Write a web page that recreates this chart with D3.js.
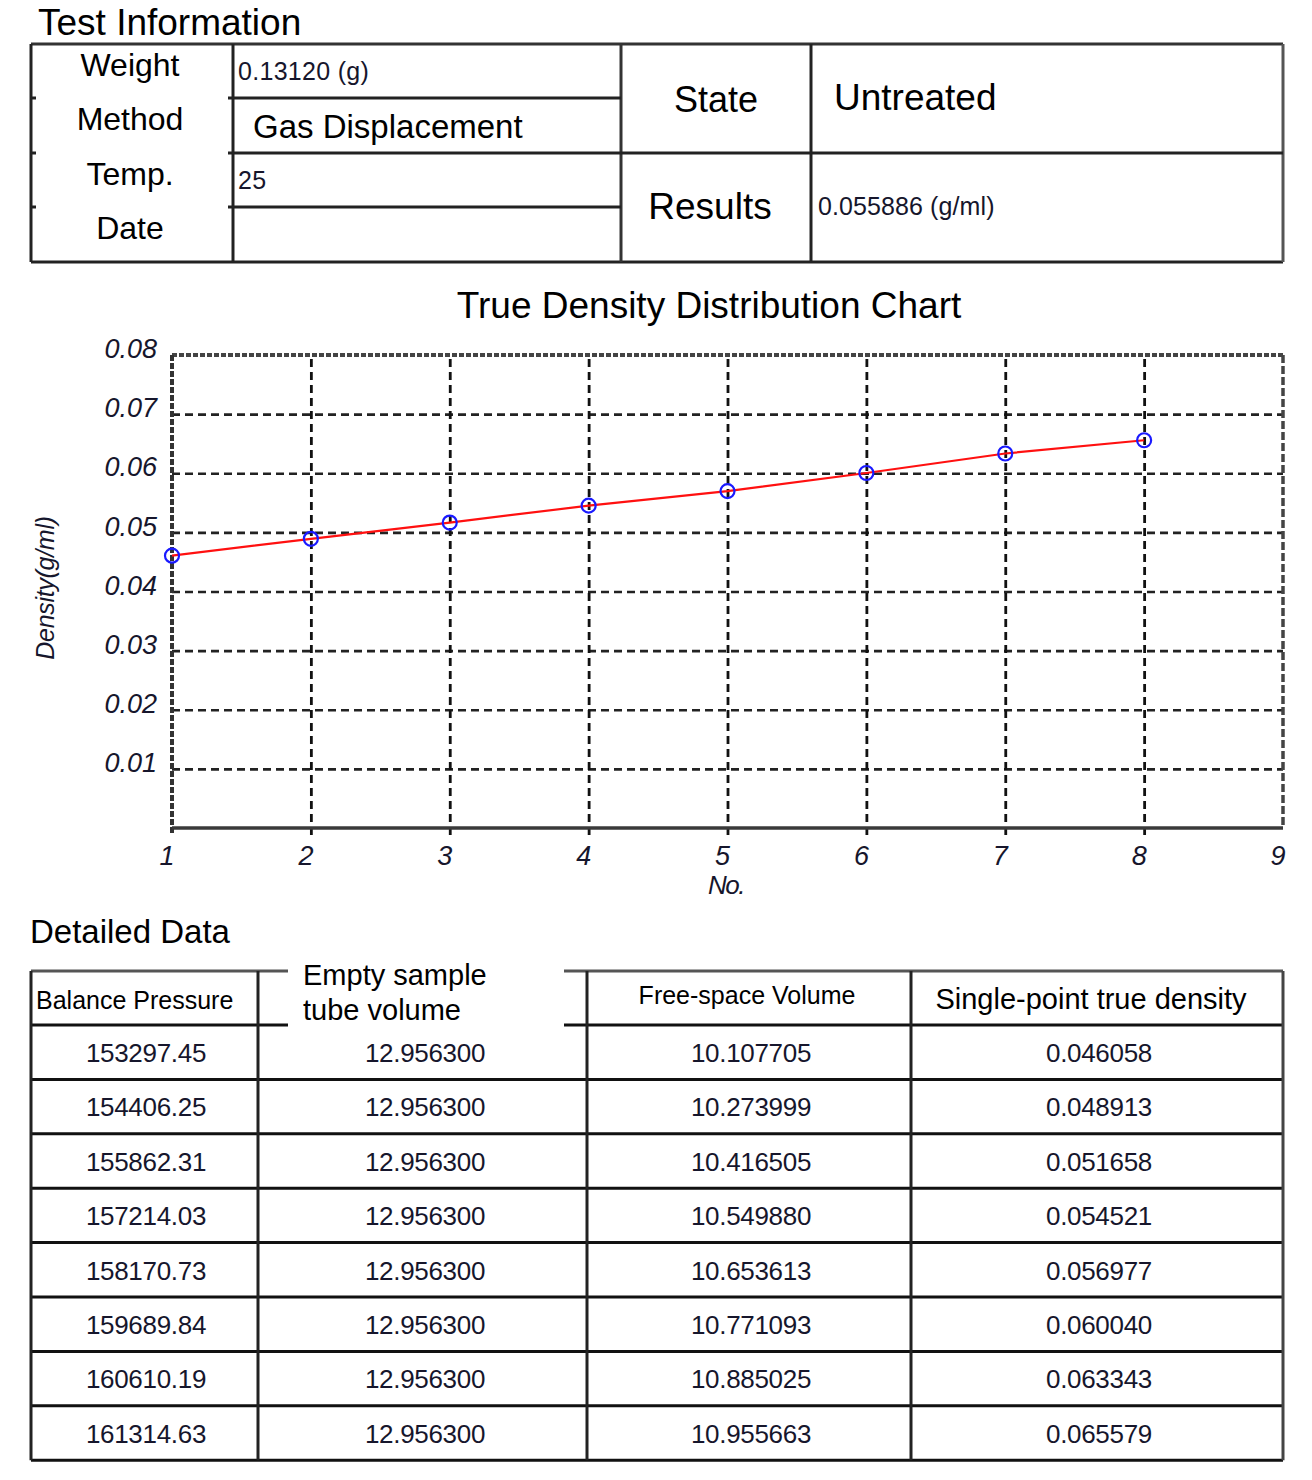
<!DOCTYPE html>
<html><head><meta charset="utf-8">
<script src="https://cdn.jsdelivr.net/npm/d3@7"></script>
<style>
html,body{margin:0;padding:0;background:#fff;}
svg{display:block;}
text{font-family:"Liberation Sans",Arial,sans-serif;}
</style></head>
<body>
<svg id="c" width="1312" height="1480"></svg>
<script>
// ---------- data ----------
const infoLabels = ["Weight", "Method", "Temp.", "Date"];
const infoValues = ["0.13120 (g)", "Gas Displacement", "25", ""];
const stateLabel = "State", stateValue = "Untreated";
const resultLabel = "Results", resultValue = "0.055886 (g/ml)";

const pointNo = [1, 2, 3, 4, 5, 6, 7, 8];
const balancePressure = ["153297.45","154406.25","155862.31","157214.03","158170.73","159689.84","160610.19","161314.63"];
const emptyTubeVolume = ["12.956300","12.956300","12.956300","12.956300","12.956300","12.956300","12.956300","12.956300"];
const freeSpaceVolume = ["10.107705","10.273999","10.416505","10.549880","10.653613","10.771093","10.885025","10.955663"];
const singlePointDensity = [0.046058, 0.048913, 0.051658, 0.054521, 0.056977, 0.060040, 0.063343, 0.065579];

const yTicks = [0.01, 0.02, 0.03, 0.04, 0.05, 0.06, 0.07, 0.08];
const xTicks = [1, 2, 3, 4, 5, 6, 7, 8, 9];
const headers = ["Balance Pressure", "Empty sample|tube volume", "Free-space Volume", "Single-point true density"];

// ---------- drawing ----------
const svg = d3.select("#c");
const ink = "#1a1a1a";
const numInk = "#16162c";

function line(g, x1, y1, x2, y2, w, col, dash) {
  const l = g.append("line").attr("x1", x1).attr("y1", y1).attr("x2", x2).attr("y2", y2)
    .attr("stroke", col || ink).attr("stroke-width", w || 3);
  if (dash) l.attr("stroke-dasharray", dash);
  return l;
}

// ===== Test Information table =====
svg.append("text").attr("x", 38).attr("y", 35).attr("font-size", 37).attr("fill", "#000").text("Test Information");
const t1 = svg.append("g");
const T = {l: 31, r: 1283, t: 44, b: 262, c1: 233, c2: 621, c3: 811};
const rowY = [44, 98, 153, 207, 262];
line(t1, T.l, T.t, T.r, T.t, 3, "#333");
line(t1, T.l, T.b, T.r, T.b, 3, "#222");
line(t1, T.l, T.t, T.l, T.b, 3, "#222");
line(t1, T.r, T.t, T.r, T.b, 3, "#555");
line(t1, T.c1, T.t, T.c1, T.b, 3, "#222");
line(t1, T.c2, T.t, T.c2, T.b, 3, "#333");
line(t1, T.c3, T.t, T.c3, T.b, 3, "#222");
[1, 2, 3].forEach(i => {
  line(t1, 228, rowY[i], T.c2, rowY[i], 3, "#222");
  line(t1, T.l, rowY[i], T.l + 5, rowY[i], 3, "#222");
});
line(t1, T.c2, 153, T.r, 153, 3, "#222");

infoLabels.forEach((d, i) => {
  t1.append("text").attr("x", 130).attr("y", 76 + i * 54.3).attr("text-anchor", "middle")
    .attr("font-family", "'Open Sans','Noto Sans',sans-serif").attr("font-size", 32).attr("fill", "#000").text(d);
});
t1.append("text").attr("x", 238).attr("y", 80).attr("font-size", 25).attr("fill", numInk).attr("letter-spacing", 0.3).text(infoValues[0]);
t1.append("text").attr("x", 253).attr("y", 138).attr("font-family", "'Open Sans','Noto Sans',sans-serif")
  .attr("font-size", 33).attr("fill", "#000").text(infoValues[1]);
t1.append("text").attr("x", 238).attr("y", 189).attr("font-size", 25).attr("fill", numInk).attr("letter-spacing", 0.3).text(infoValues[2]);
t1.append("text").attr("x", 716).attr("y", 112).attr("text-anchor", "middle").attr("font-size", 36).attr("fill", "#000").text(stateLabel);
t1.append("text").attr("x", 834).attr("y", 110).attr("font-size", 37).attr("fill", "#000").text(stateValue);
t1.append("text").attr("x", 710).attr("y", 219).attr("text-anchor", "middle").attr("font-size", 37).attr("fill", "#000").text(resultLabel);
t1.append("text").attr("x", 818).attr("y", 215).attr("font-size", 25).attr("fill", numInk).attr("letter-spacing", 0.1).text(resultValue);

// ===== Chart =====
svg.append("text").attr("x", 709).attr("y", 318).attr("text-anchor", "middle").attr("font-size", 37).attr("fill", "#000")
  .text("True Density Distribution Chart");

const P = {l: 172, r: 1283, t: 355, b: 828};
const x = d3.scaleLinear().domain([1, 9]).range([P.l, P.r]);
const y = d3.scaleLinear().domain([0, 0.08]).range([P.b, P.t]);
const ch = svg.append("g");

// horizontal grid
const gy = ch.append("g").attr("transform", `translate(${P.l},0)`)
  .call(d3.axisLeft(y).tickValues(yTicks.slice(0, -1)).tickSize(-(P.r - P.l)).tickFormat(""));
gy.select(".domain").remove();
gy.selectAll(".tick line").attr("stroke", "#222").attr("stroke-width", 2.6).attr("stroke-dasharray", "8,5");

// vertical grid
const gx = ch.append("g").attr("transform", `translate(0,${P.b + 7})`)
  .call(d3.axisBottom(x).tickValues(xTicks.slice(1, -1)).tickSize(-(P.b + 7 - P.t)).tickFormat(""));
gx.select(".domain").remove();
gx.selectAll(".tick line").attr("stroke", "#111").attr("stroke-width", 2.8).attr("stroke-dasharray", "8,5");

// frame
line(ch, P.l, P.t, P.r, P.t, 4, "#444", "5,2");
line(ch, P.r, P.t, P.r, P.b, 3.5, "#444", "8,3");
line(ch, P.l, P.t, P.l, P.b + 7, 4, "#333", "6,2");
line(ch, P.l, P.b, P.r, P.b, 3.5, "#3a3a3a");

// tick labels
const yl = ch.append("g").attr("transform", `translate(${P.l},0)`)
  .call(d3.axisLeft(y).tickValues(yTicks).tickSize(0).tickPadding(15).tickFormat(d3.format(".2f")));
yl.select(".domain").remove();
yl.selectAll("text").attr("font-size", 27).attr("font-style", "italic").attr("fill", numInk)
  .attr("font-family", "'Liberation Sans',Arial,sans-serif").attr("dy", "0.1em");

const xl = ch.append("g").attr("transform", `translate(0,${P.b})`)
  .call(d3.axisBottom(x).tickValues(xTicks).tickSize(0).tickPadding(18).tickFormat(d3.format("d")));
xl.select(".domain").remove();
xl.selectAll("text").attr("font-size", 27).attr("font-style", "italic").attr("fill", numInk)
  .attr("font-family", "'Liberation Sans',Arial,sans-serif").attr("dx", "-0.2em");

ch.append("text").attr("x", 726).attr("y", 894).attr("text-anchor", "middle").attr("font-size", 26)
  .attr("font-style", "italic").attr("fill", numInk).attr("letter-spacing", -1.5).text("No.");
ch.append("text").attr("transform", "translate(54,588) rotate(-90)").attr("text-anchor", "middle")
  .attr("font-size", 25).attr("font-style", "italic").attr("fill", numInk).attr("letter-spacing", -0.3).text("Density(g/ml)");

// series
const pts = pointNo.map((n, i) => [n, singlePointDensity[i]]);
ch.append("path").datum(pts).attr("fill", "none").attr("stroke", "#ff1010").attr("stroke-width", 2.2)
  .attr("d", d3.line().x(d => x(d[0])).y(d => y(d[1])));
ch.selectAll("circle.pt").data(pts).join("circle").attr("class", "pt")
  .attr("cx", d => x(d[0])).attr("cy", d => y(d[1])).attr("r", 7)
  .attr("fill", "none").attr("stroke", "#1a1aff").attr("stroke-width", 2.2);

// ===== Detailed Data table =====
svg.append("text").attr("x", 30).attr("y", 943).attr("font-size", 33).attr("fill", "#000").text("Detailed Data");
const t2 = svg.append("g");
const colX = [31, 258, 587, 911, 1283];
const hTop = 971, hBot = 1025, rowH = 54.4;
const nRows = balancePressure.length;
const bottom = hBot + rowH * nRows;

// header borders (gap over the 2nd header)
line(t2, 31, hTop, 288, hTop, 3, "#555");
line(t2, 564, hTop, 1283, hTop, 3, "#555");
line(t2, 31, hBot, 288, hBot, 3, "#111");
line(t2, 564, hBot, 1283, hBot, 3, "#111");
// row lines
d3.range(1, nRows + 1).forEach(i => line(t2, 31, hBot + i * rowH, 1283, hBot + i * rowH, 3, "#111"));
// column lines
colX.forEach((cx, i) => line(t2, cx, hTop, cx, bottom, 3, i === 4 ? "#444" : "#222"));

// headers
t2.append("text").attr("x", 36).attr("y", 1009).attr("font-size", 25).attr("fill", "#000").text(headers[0]);
headers[1].split("|").forEach((s, i) => {
  t2.append("text").attr("x", 303).attr("y", 985 + i * 35).attr("font-size", 29).attr("fill", "#000").text(s);
});
t2.append("text").attr("x", 747).attr("y", 1004).attr("text-anchor", "middle").attr("font-size", 25).attr("fill", "#000").text(headers[2]);
t2.append("text").attr("x", 1091).attr("y", 1009).attr("text-anchor", "middle").attr("font-size", 29).attr("fill", "#000").text(headers[3]);

// rows
const cols = [balancePressure, emptyTubeVolume, freeSpaceVolume, singlePointDensity.map(d => d.toFixed(6))];
const colCenter = [146, 425, 751, 1099];
cols.forEach((arr, c) => {
  t2.selectAll(null).data(arr).join("text")
    .attr("x", colCenter[c]).attr("y", (d, i) => hBot + i * rowH + 37)
    .attr("text-anchor", "middle").attr("font-size", 26).attr("fill", numInk).attr("letter-spacing", -0.3)
    .text(d => d);
});
</script>
</body></html>
